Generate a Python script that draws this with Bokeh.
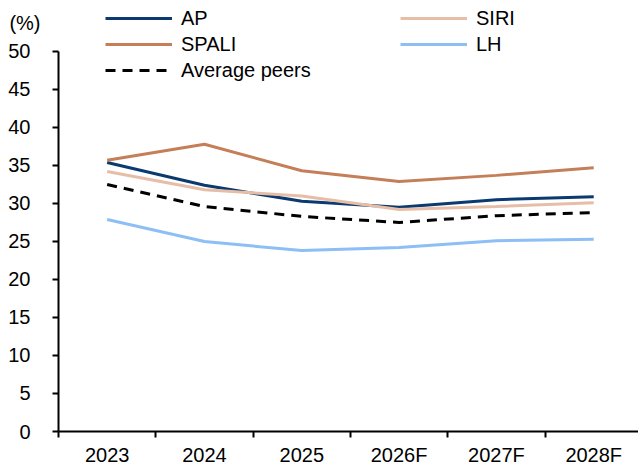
from bokeh.plotting import figure
from bokeh.models import (Legend, LegendItem, FixedTicker, LinearAxis, Range1d,
                          CustomJSTickFormatter)
from bokeh.embed import file_html
from bokeh.resources import INLINE

# Gross margin by developer (%)
years = ["2023", "2024", "2025", "2026F", "2027F", "2028F"]
ap = [35.4, 32.4, 30.3, 29.5, 30.5, 30.9]
siri = [34.2, 31.8, 31.0, 29.2, 29.6, 30.1]
spali = [35.7, 37.8, 34.3, 32.9, 33.7, 34.7]
lh = [27.9, 25.0, 23.8, 24.2, 25.1, 25.3]
avg_peers = [32.5, 29.6, 28.3, 27.5, 28.4, 28.8]
y_ticks = [0, 5, 10, 15, 20, 25, 30, 35, 40, 45, 50]
unit_text = "(%)"

FONT = "Liberation Sans"
FS = "20px"

xs = [i + 0.5 for i in range(len(years))]

p = figure(width=638, height=468, output_backend="svg", toolbar_location=None,
           x_range=Range1d(0, 5.96), y_range=Range1d(0, 56.71),
           min_border_left=58, min_border_right=0, min_border_top=0,
           min_border_bottom=37, outline_line_color=None)
p.grid.visible = False
p.background_fill_color = "white"
p.border_fill_color = "white"

# y axis
p.yaxis.ticker = FixedTicker(ticks=y_ticks)
p.yaxis.bounds = (0, 50)
p.yaxis.axis_line_width = 2
p.yaxis.major_tick_line_width = 2
p.yaxis.major_tick_out = 6
p.yaxis.major_tick_in = 0
p.yaxis.minor_tick_line_color = None
p.yaxis.major_label_standoff = 22
p.yaxis.major_label_text_font = FONT
p.yaxis.major_label_text_font_size = FS
p.yaxis.major_label_text_color = "black"

# unit caption above the value labels, drawn as a bare outer axis
unit_axis = LinearAxis(
    ticker=FixedTicker(ticks=[53.8]),
    formatter=CustomJSTickFormatter(args=dict(t=unit_text), code="return t;"),
    axis_line_color=None, major_tick_line_color=None, minor_tick_line_color=None,
    major_tick_out=0, major_tick_in=0, major_label_standoff=-35,
    major_label_text_font=FONT, major_label_text_font_size=FS,
    major_label_text_color="black")
p.add_layout(unit_axis, "left")

# x axis: labels at category centres, tick marks at category boundaries
p.xaxis.ticker = FixedTicker(ticks=xs, minor_ticks=list(range(len(years) + 1)))
p.xaxis.formatter = CustomJSTickFormatter(
    args=dict(labels=years), code="return labels[Math.floor(tick)];")
p.xaxis.axis_line_width = 2
p.xaxis.major_tick_line_color = None
p.xaxis.minor_tick_line_width = 2
p.xaxis.minor_tick_out = 6
p.xaxis.minor_tick_in = 0
p.xaxis.major_label_standoff = 6
p.xaxis.major_label_text_font = FONT
p.xaxis.major_label_text_font_size = FS
p.xaxis.major_label_text_color = "black"

series = [
    ("AP", ap, "#0b3a70", None),
    ("SIRI", siri, "#e6bea8", None),
    ("SPALI", spali, "#c47f59", None),
    ("LH", lh, "#8dbff5", None),
    ("Average peers", avg_peers, "black", "10 7"),
]
renderers = {}
for name, vals, color, dash in series:
    kw = dict(line_color=color, line_width=3)
    if dash:
        kw["line_dash"] = dash
    renderers[name] = p.line(xs, vals, **kw)


def make_legend(names, x, y):
    leg = Legend(items=[LegendItem(label=n, renderers=[renderers[n]]) for n in names],
                 location=(x, y), orientation="vertical",
                 glyph_width=67, glyph_height=20, label_height=20,
                 label_standoff=9, spacing=3, padding=0, margin=0,
                 border_line_color=None, background_fill_alpha=0,
                 label_text_font=FONT, label_text_font_size=FS,
                 label_text_color="black")
    p.add_layout(leg)


# legend location is the bottom-left corner, in pixels from the frame's bottom-left
make_legend(["AP", "SPALI", "Average peers"], 47, 349.5)
make_legend(["SIRI", "LH"], 342, 375.5)

open("out.html", "w").write(file_html(p, INLINE))
